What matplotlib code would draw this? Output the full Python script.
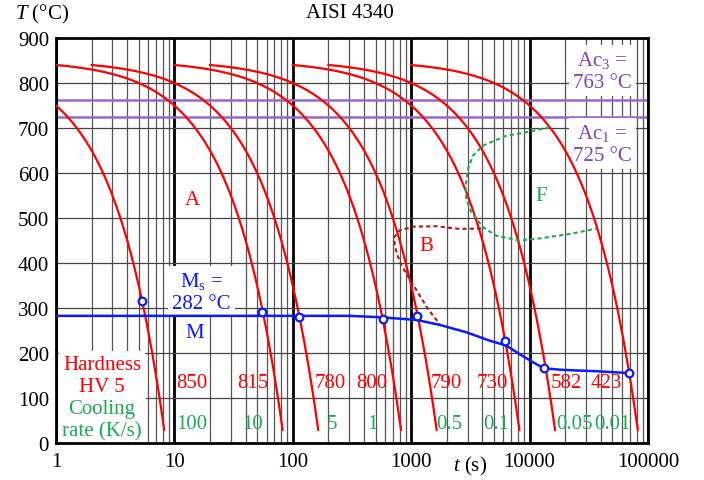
import matplotlib
matplotlib.use('Agg')
import matplotlib.pyplot as plt
from matplotlib.ticker import FuncFormatter, NullFormatter, MultipleLocator
import numpy as np

plt.rcParams['font.family'] = ['Liberation Serif', 'DejaVu Serif']
plt.rcParams['mathtext.fontset'] = 'custom'
plt.rcParams['mathtext.rm'] = 'Liberation Serif'
plt.rcParams['mathtext.it'] = 'Liberation Serif:italic'

# cooling curves (constant cooling rate from 840 C down to 30 C)
start_temp = 840
end_temp = 30
start_times = [0.1, 1, 2, 10, 20, 100, 200, 1000]
cooling_rates = [100, 10, 5, 1, 0.5, 0.1, 0.05, 0.01]
rate_labels = ['100', '10', '5', '1', '0.5', '0.1', '0.05', '0.01']
hardness = ['850', '815', '780', '800', '790', '730', '582', '423']

# martensite start line
ms_t = [1, 300, 540, 1107, 1740, 2924, 4596, 6350, 8240, 10670, 13200, 19100, 36600, 68900]
ms_T = [283, 283, 280, 274, 263, 246.5, 228, 217, 198, 180, 166.5, 163, 160, 156]
ms_pts_t = [5.29, 55.4, 112.6, 574, 1120, 6174, 13130, 68900]
ms_pts_T = [317, 291, 281, 277, 282, 228, 167, 156]

# bainite boundary
bain_t = [3900, 2570, 1630, 1040, 800, 720, 725, 760, 830, 970, 1180, 1390, 1740]
bain_T = [477, 476, 482, 481, 473, 458, 440, 420, 394, 365, 328, 298, 265]

# ferrite boundary
ferr_t = [14750, 10000, 6357, 4036, 3325, 3015, 2884, 2924, 3221, 4036, 5240, 8240, 12140, 23200, 36600]
ferr_T = [702, 692, 683, 661, 639, 609, 572, 542, 513, 480, 461, 450, 455, 466, 477]

ac3 = 763
ac1 = 725

red = '#ff0000'
green = '#1aaa55'
blue = '#0a1aff'
purple = '#9966cc'
purple_txt = '#7a44b8'
darkred = '#b01818'

fig = plt.figure(figsize=(7.04, 4.81), dpi=100)
ax = fig.add_axes([56/704, 1-444.3/481, 592/704, 405.3/481])
ax.set_xscale('log')
ax.set_xlim(1, 100000)
ax.set_ylim(0, 900)
ax.yaxis.set_major_locator(MultipleLocator(100))
ax.xaxis.set_major_formatter(FuncFormatter(lambda v, p: f'{v:g}'))
ax.xaxis.set_minor_formatter(NullFormatter())
ax.tick_params(which='both', length=0, labelsize=15)
ax.tick_params(axis='y', pad=5)
ax.tick_params(axis='x', pad=6)
ax.set_axisbelow(True)
ax.xaxis.grid(True, which='major', color='k', lw=2)
ax.xaxis.grid(True, which='minor', color='#555555', lw=0.9)
ax.yaxis.grid(True, which='major', color='#444444', lw=0.9)
for s in ax.spines.values():
    s.set_linewidth(2)

# Ac lines
ax.axhline(ac3, color=purple, lw=1.8, zorder=2)
ax.axhline(ac1, color=purple, lw=1.8, zorder=2)

# cooling curves
temps = np.linspace(start_temp, end_temp, 400)
for t0, r in zip(start_times, cooling_rates):
    ax.plot(t0 + (start_temp - temps) / r, temps, color=red, lw=1.6, zorder=3)

ax.plot(bain_t, bain_T, color=darkred, lw=1.5, ls=(0, (2, 1.5)), zorder=3)
ax.plot(ferr_t, ferr_T, color=green, lw=1.5, ls=(0, (2, 1.5)), zorder=3)
ax.plot(ms_t, ms_T, color=blue, lw=1.8, zorder=4)
ax.plot(ms_pts_t, ms_pts_T, 'o', ms=5.5, mfc='white', mec=blue, mew=1.6, zorder=5)

# labels on curves
hard_pos = [14, 46, 207, 465, 1980, 4870, 20400, 44400]
rate_pos = [14, 46, 212, 471, 2110, 5240, 24000, 50500]
for x, s in zip(hard_pos, hardness):
    ax.text(x, 135, s, color=red, fontsize=15, ha='center', va='center', zorder=6)
for x, s in zip(rate_pos, rate_labels):
    ax.text(x, 43, s, color=green, fontsize=15, ha='center', va='center', zorder=6)

box = dict(facecolor='white', edgecolor='none', pad=3)
ax.text(2.45, 150, 'Hardness\nHV 5', color=red, fontsize=15, ha='center', va='center',
        bbox=box, zorder=2.5)
ax.text(2.45, 52, 'Cooling\nrate (K/s)', color=green, fontsize=15, ha='center', va='center',
        bbox=box, zorder=2.5)
ax.text(17, 337, 'M$_\\mathrm{s}$ =\n282 °C', color=blue, fontsize=15, ha='center', va='center',
        bbox=box, zorder=2.5)
ax.text(14.7, 246, 'M', color=blue, fontsize=15, ha='center', va='center', zorder=6)
ax.text(14.3, 542, 'A', color=red, fontsize=15, ha='center', va='center', zorder=6)
ax.text(1343, 439, 'B', color=red, fontsize=15, ha='center', va='center', zorder=6)
ax.text(12560, 550, 'F', color=green, fontsize=15, ha='center', va='center', zorder=6)
ax.text(41300, 828, 'Ac$_3$ =\n763 °C', color=purple_txt, fontsize=15, ha='center', va='center',
        bbox=box, zorder=2.5)
ax.text(41300, 665, 'Ac$_1$ =\n725 °C', color=purple_txt, fontsize=15, ha='center', va='center',
        bbox=box, zorder=2.5)

fig.text(350/704, 1-14/481, 'AISI 4340', fontsize=15, ha='center', va='center')
fig.text(15/704, 1-14/481, '$T$ (°C)', fontsize=15, ha='left', va='center')
fig.text(470/704, 1-466/481, '$t$ (s)', fontsize=15, ha='center', va='center')

fig.savefig('out.png', dpi=100)
